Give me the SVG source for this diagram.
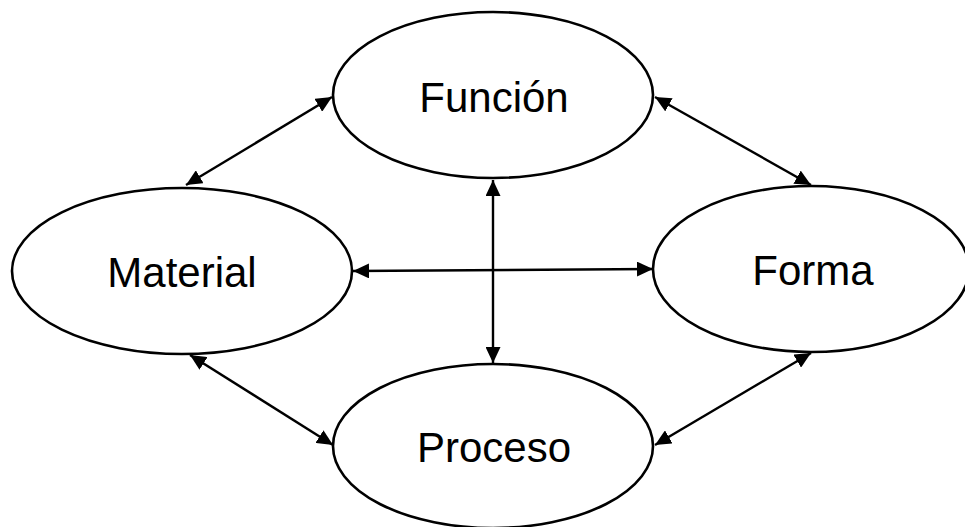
<svg xmlns="http://www.w3.org/2000/svg" width="965" height="527" viewBox="0 0 965 527">
<style>
.node{fill:#fff;stroke:#000;stroke-width:2.6}
.lbl{font-family:"Liberation Sans",Arial,sans-serif;font-size:42px;fill:#000;text-anchor:middle}
.edge{stroke:#000;stroke-width:2.4;fill:none;marker-start:url(#ah);marker-end:url(#ah)}
</style>
<defs>
<marker id="ah" viewBox="0 0 16 15" refX="16" refY="7.5" markerWidth="16" markerHeight="15" markerUnits="userSpaceOnUse" orient="auto-start-reverse">
<path d="M0,0 L16,7.5 L0,15 z" fill="#000"/>
</marker>
</defs>
<rect width="965" height="527" fill="#fff"/>
<g id="connectors">
<line class="edge" x1="332" y1="97" x2="186" y2="185"/>
<line class="edge" x1="655" y1="97" x2="811" y2="185"/>
<line class="edge" x1="493" y1="180" x2="493" y2="363"/>
<line class="edge" x1="353" y1="271" x2="653" y2="269"/>
<line class="edge" x1="190" y1="355" x2="333" y2="445"/>
<line class="edge" x1="811" y1="353" x2="655" y2="445"/>
</g>
<g id="funcion">
<ellipse class="node" cx="493" cy="95" rx="160" ry="83"/>
<text class="lbl" x="494" y="112">Función</text>
</g>
<g id="material">
<ellipse class="node" cx="182" cy="271" rx="170" ry="83"/>
<text class="lbl" x="182" y="287">Material</text>
</g>
<g id="forma">
<ellipse class="node" cx="811" cy="269" rx="158" ry="83"/>
<text class="lbl" x="813" y="285">Forma</text>
</g>
<g id="proceso">
<ellipse class="node" cx="493" cy="446" rx="160" ry="82"/>
<text class="lbl" x="494" y="462">Proceso</text>
</g>
</svg>
